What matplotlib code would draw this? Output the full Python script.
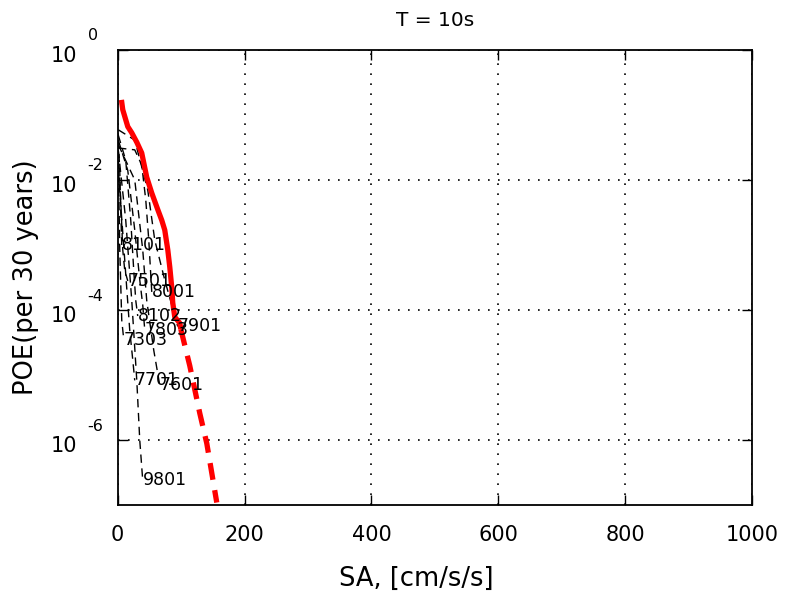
import numpy as np
import matplotlib.pyplot as plt

# hazard curves, SA in cm/s/s, POE per 30 years
sa_total = [5.8, 7.9, 15.8, 22.1, 30.0, 37.8, 45.7, 53.6, 63.1, 69.4, 74.1,
            78.9, 82.0, 85.2, 86.7, 89.9, 97.8, 99.4]
poe_total = [1.7e-1, 1.2e-1, 6.6e-2, 5.3e-2, 3.8e-2, 2.6e-2, 1.1e-2, 6.3e-3,
             3.5e-3, 2.4e-3, 1.7e-3, 8.4e-4, 4.6e-4, 2.2e-4, 1.3e-4, 7.8e-5,
             6.3e-5, 5.1e-5]
# extrapolated tail
sa_tail = [99.4, 113.5, 129.3, 140.4, 156.1]
poe_tail = [5.1e-5, 1.4e-5, 2.6e-6, 8.9e-7, 1.1e-7]

# individual source curves
src_names = ['8101', '7501', '8001', '8102', '7803', '7901', '7303', '7701', '7601', '9801']
src_sa = [
    [0.8, 3.2, 4.7, 6.3],
    [0.8, 4.7, 7.9, 11.0, 15.8],
    [0.5, 26.8, 37.8, 44.2, 48.9, 53.6],
    [0.8, 12.6, 20.5, 25.2, 28.4, 31.5],
    [0.8, 15.8, 26.8, 34.7, 39.4, 42.6],
    [0.8, 26.8, 47.3, 58.3, 74.1, 94.6],
    [0.8, 3.2, 6.3, 9.5],
    [0.8, 11.0, 18.9, 23.7, 26.8],
    [0.8, 26.8, 39.4, 45.7, 56.8, 66.2],
    [0.8, 12.6, 22.1, 30.0, 34.7, 39.4],
]
src_poe = [
    [4.1e-2, 1.4e-2, 3.5e-3, 1.0e-3],
    [2.9e-2, 4.9e-3, 8.4e-4, 4.1e-4, 2.8e-4],
    [3.1e-2, 2.9e-2, 1.7e-2, 4.9e-3, 1.2e-3, 1.9e-4],
    [4.9e-2, 2.0e-2, 2.4e-3, 4.1e-4, 1.4e-4, 8.1e-5],
    [4.1e-2, 1.4e-2, 1.7e-3, 2.9e-4, 1.2e-4, 4.9e-5],
    [5.9e-2, 4.1e-2, 7.0e-3, 1.2e-3, 2.9e-4, 5.6e-5],
    [2.0e-2, 8.4e-4, 7.0e-5, 3.5e-5],
    [1.4e-2, 5.9e-4, 4.9e-5, 1.7e-5, 8.3e-6],
    [3.5e-2, 1.0e-2, 8.4e-4, 1.4e-4, 2.4e-5, 7.0e-6],
    [2.9e-2, 2.4e-3, 1.4e-4, 8.3e-6, 1.0e-6, 2.4e-7],
]

xticks = [0, 200, 400, 600, 800, 1000]
yexps = [0, -2, -4, -6]

plt.rcParams['font.family'] = 'DejaVu Sans'
fig = plt.figure(figsize=(7.85, 5.93), dpi=100)
ax = fig.add_axes([0.150, 0.148, 0.808, 0.768])

for name, s, p in zip(src_names, src_sa, src_poe):
    ax.plot(s, p, 'k--', lw=1.0, dashes=(6, 4))
    ax.text(s[-1], p[-1], name, fontsize=12.5, ha='left', va='center')

ax.plot(sa_total, poe_total, color='red', lw=3.8, solid_capstyle='butt')
ax.plot(sa_tail, poe_tail, color='red', lw=3.8, ls='--', dashes=(3.2, 2))

ax.set_yscale('log')
ax.set_xlim(0, 1000)
ax.set_ylim(1e-7, 1)
ax.set_xticks(xticks)
ax.set_yticks([10.0 ** e for e in yexps])
ax.minorticks_off()
ax.set_yticklabels([])
ax.tick_params(direction='in', length=7, width=1, top=True, right=True,
               labelsize=15, pad=14)
ax.grid(True, color='black', ls=(0, (1, 5)), lw=1.2)
for sp in ax.spines.values():
    sp.set_linewidth(1.3)

# base-ten labels with a raised exponent
for e in yexps:
    ax.annotate('10', xy=(0, 10.0 ** e), xycoords=('axes fraction', 'data'),
                xytext=(-41, -6), textcoords='offset pixels',
                ha='right', va='center', fontsize=15)
    ax.annotate(str(e), xy=(0, 10.0 ** e), xycoords=('axes fraction', 'data'),
                xytext=(-30, 14), textcoords='offset pixels',
                ha='left', va='center', fontsize=11.5)

ax.set_title('T = 10s', fontsize=14.5, pad=17)
ax.set_xlabel('SA, [cm/s/s]', fontsize=18.5)
ax.set_ylabel('POE(per 30 years)', fontsize=18.5)
ax.xaxis.set_label_coords(0.47, -0.134)
ax.yaxis.set_label_coords(-0.124, 0.5)

fig.savefig('out.png', dpi=100)
